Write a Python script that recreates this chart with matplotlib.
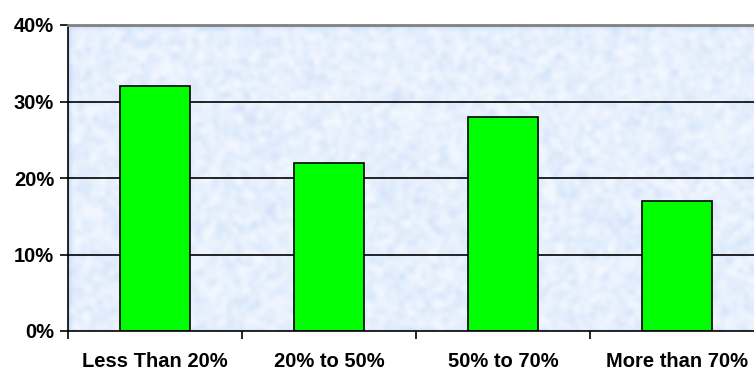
import numpy as np
import matplotlib
matplotlib.use("Agg")
import matplotlib.pyplot as plt
from matplotlib.ticker import FuncFormatter

categories = ["Less Than 20%", "20% to 50%", "50% to 70%", "More than 70%"]
shares = [32, 22, 28, 17]
y_ticks = [0, 10, 20, 30, 40]

plt.rcParams["font.family"] = ["Liberation Sans", "DejaVu Sans"]

W, H = 754, 371
fig = plt.figure(figsize=(W / 100, H / 100), dpi=100)
left, right, bottom, top = 68, 764, 331, 25
ax = fig.add_axes([left / W, 1 - bottom / H, (right - left) / W, (bottom - top) / H])

# soft marbled blue fill for the plot area
rng = np.random.default_rng(7)
tex = rng.random((200, 460))
k = np.ones(4) / 4
for _ in range(2):
    tex = np.apply_along_axis(lambda r: np.convolve(r, k, mode="same"), 1, tex)
    tex = np.apply_along_axis(lambda c: np.convolve(c, k, mode="same"), 0, tex)
tex = (tex - tex.min()) / (tex.max() - tex.min())
tex = np.clip((tex - 0.5) * 1.6 + 0.5, 0, 1)
base = np.array([0.78, 0.86, 0.97])
light = np.array([0.95, 0.97, 1.00])
img = base[None, None, :] * (1 - tex[..., None]) + light[None, None, :] * tex[..., None]
ax.imshow(img, extent=(-0.5, len(categories) - 0.5, 0, 40), aspect="auto",
          zorder=0, interpolation="bilinear")

x = np.arange(len(categories))
for val in y_ticks[1:-1]:
    ax.axhline(val, color="black", lw=1.2, zorder=1)
ax.bar(x, shares, width=0.4, color="#00ff00", edgecolor="black", lw=1.2, zorder=2)

ax.set_xlim(-0.5, len(categories) - 0.5)
ax.set_ylim(0, 40)
ax.set_yticks(y_ticks)
ax.yaxis.set_major_formatter(FuncFormatter(lambda v, p: f"{v:.0f}%"))
ax.set_xticks(np.arange(len(categories) + 1) - 0.5)
ax.set_xticklabels([])
ax.set_xticks(x, minor=True)
ax.set_xticklabels(categories, minor=True)
ax.tick_params(axis="x", which="major", length=6, width=1.2, direction="out")
ax.tick_params(axis="x", which="minor", length=0, pad=15, labelsize=14.5)
ax.tick_params(axis="y", length=6, width=1.2, direction="out", labelsize=14.5, pad=4)
for lab in ax.get_xticklabels(minor=True) + ax.get_yticklabels():
    lab.set_fontweight("bold")

ax.spines["left"].set_linewidth(1.2)
ax.spines["bottom"].set_linewidth(1.2)
ax.spines["top"].set_color("#808080")
ax.spines["top"].set_linewidth(2)
ax.spines["right"].set_visible(False)

fig.savefig("out.png", dpi=100)
